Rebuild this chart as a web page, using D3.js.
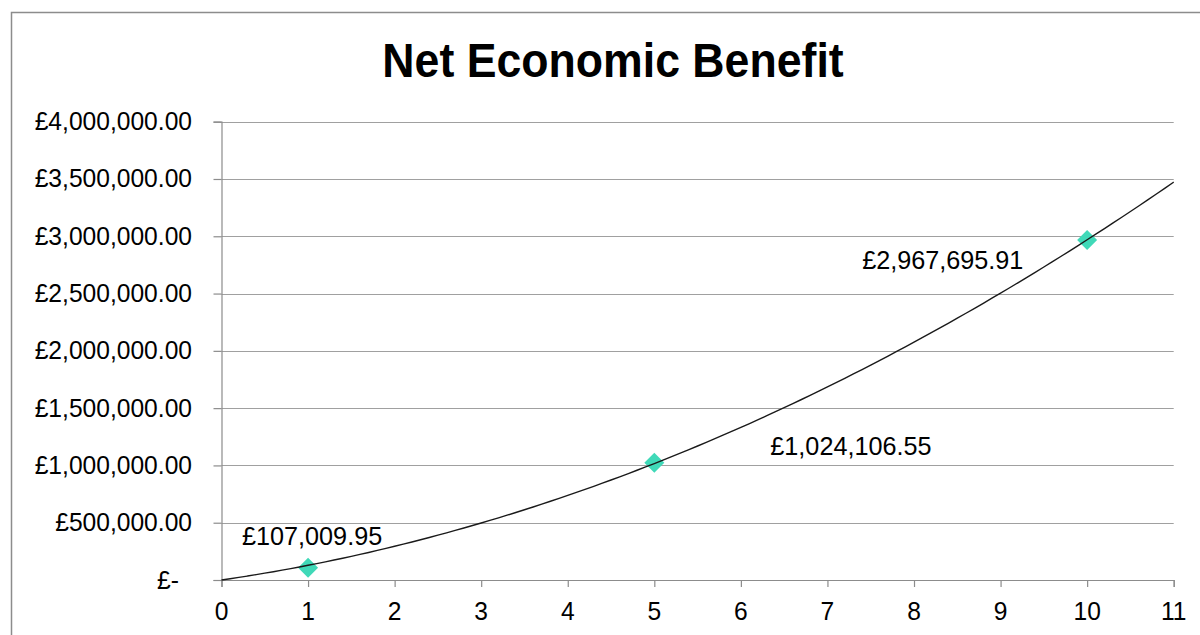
<!DOCTYPE html>
<html>
<head>
<meta charset="utf-8">
<script src="https://cdn.jsdelivr.net/npm/d3@7"></script>
<style>
  html, body { margin: 0; padding: 0; background: #fff; }
  svg { display: block; }
  text { font-family: "Liberation Sans", Arial, sans-serif; fill: #000; }
</style>
</head>
<body>
<svg id="chart" width="1200" height="635"></svg>
<script>
// ---- data ----
const chartTitle = "Net Economic Benefit";
const years = [1, 5, 10];
const benefits = [107009.95, 1024106.55, 2967695.91];
const pointLabels = ["£107,009.95", "£1,024,106.55", "£2,967,695.91"];
const yTickValues = [0, 500000, 1000000, 1500000, 2000000, 2500000, 3000000, 3500000, 4000000];
const yTickLabels = ["£-", "£500,000.00", "£1,000,000.00", "£1,500,000.00", "£2,000,000.00",
                     "£2,500,000.00", "£3,000,000.00", "£3,500,000.00", "£4,000,000.00"];
const xTickValues = [0, 1, 2, 3, 4, 5, 6, 7, 8, 9, 10, 11];

// ---- layout ----
const W = 1200, H = 635;
const plot = { left: 221.5, right: 1173.7, top: 121.7, bottom: 580 };
const labelOffsets = [ // pixel offsets of data labels relative to their point
  { dx: 4, dy: -22.5, anchor: "middle" },
  { dx: 116, dy: -7.5, anchor: "start" },
  { dx: -225, dy: 29, anchor: "start" }
];
const sx = 0.93;   // horizontal text compression seen in the reference (title)
const sxT = 0.965; // tick labels

const svg = d3.select("#chart");
const x = d3.scaleLinear().domain([0, 11]).range([plot.left, plot.right]);
const y = d3.scaleLinear().domain([0, 4000000]).range([plot.bottom, plot.top]);

// outer chart border
svg.append("path")
  .attr("d", `M11.5,${H} L11.5,12.5 L${W},12.5`)
  .attr("fill", "none").attr("stroke", "#8c8c8c").attr("stroke-width", 1.5);

// title
svg.append("text")
  .attr("transform", `translate(613,77) scale(${sx},1)`)
  .attr("text-anchor", "middle")
  .attr("font-size", 48).attr("font-weight", "bold")
  .text(chartTitle);

// horizontal gridlines
svg.append("g").selectAll("line")
  .data(yTickValues.filter(v => v > 0))
  .join("line")
  .attr("x1", plot.left).attr("x2", plot.right)
  .attr("y1", d => Math.round(y(d)) + 0.5).attr("y2", d => Math.round(y(d)) + 0.5)
  .attr("stroke", "#a0a0a0").attr("stroke-width", 1.2);

// y axis
const yAxis = d3.axisLeft(y).tickValues(yTickValues).tickSize(8).tickFormat((d, i) => "");
const gy = svg.append("g").attr("transform", `translate(${plot.left},0)`).call(yAxis);
gy.select(".domain").attr("stroke", "#8c8c8c").attr("stroke-width", 1.2);
gy.selectAll(".tick line").attr("stroke", "#8c8c8c").attr("stroke-width", 1.2);
svg.append("g").selectAll("text")
  .data(yTickValues)
  .join("text")
  .attr("transform", (d, i) => `translate(${i === 0 ? 179 : 192},${y(d) + 8.5}) scale(${sxT},1)`)
  .attr("text-anchor", "end")
  .attr("font-size", 25.5)
  .text((d, i) => yTickLabels[i]);

// x axis
const xAxis = d3.axisBottom(x).tickValues(xTickValues).tickSize(7).tickFormat(() => "");
const gx = svg.append("g").attr("transform", `translate(0,${plot.bottom})`).call(xAxis);
gx.select(".domain").attr("stroke", "#8c8c8c").attr("stroke-width", 1.2);
gx.selectAll(".tick line").attr("stroke", "#8c8c8c").attr("stroke-width", 1.2);
svg.append("g").selectAll("text")
  .data(xTickValues)
  .join("text")
  .attr("transform", d => `translate(${x(d)},620) scale(${sxT},1)`)
  .attr("text-anchor", "middle")
  .attr("font-size", 25.5)
  .text(d => d);

// markers (diamonds)
svg.append("g").selectAll("path")
  .data(years)
  .join("path")
  .attr("d", d3.symbol().type(d3.symbolDiamond2).size(255))
  .attr("transform", (d, i) => `translate(${x(d)},${y(benefits[i])})`)
  .attr("fill", "#40d9b8");

// polynomial (order 2, intercept 0) least-squares trendline from the data
let s4 = 0, s3 = 0, s2 = 0, s2y = 0, s1y = 0;
years.forEach((t, i) => {
  const v = benefits[i];
  s4 += t ** 4; s3 += t ** 3; s2 += t ** 2; s2y += t * t * v; s1y += t * v;
});
const det = s4 * s2 - s3 * s3;
const qa = (s2y * s2 - s3 * s1y) / det;
const qb = (s4 * s1y - s3 * s2y) / det;
const trendX = d3.range(0, 11.0001, 0.1);
svg.append("path")
  .datum(trendX)
  .attr("d", d3.line().x(t => x(t)).y(t => y(qa * t * t + qb * t)).curve(d3.curveMonotoneX))
  .attr("fill", "none").attr("stroke", "#1a1a1a").attr("stroke-width", 1.4);

// data labels
svg.append("g").selectAll("text")
  .data(years)
  .join("text")
  .attr("transform", (d, i) => `translate(${x(d) + labelOffsets[i].dx},${y(benefits[i]) + labelOffsets[i].dy}) scale(0.97,1)`)
  .attr("text-anchor", (d, i) => labelOffsets[i].anchor)
  .attr("font-size", 26)
  .text((d, i) => pointLabels[i]);
</script>
</body>
</html>
